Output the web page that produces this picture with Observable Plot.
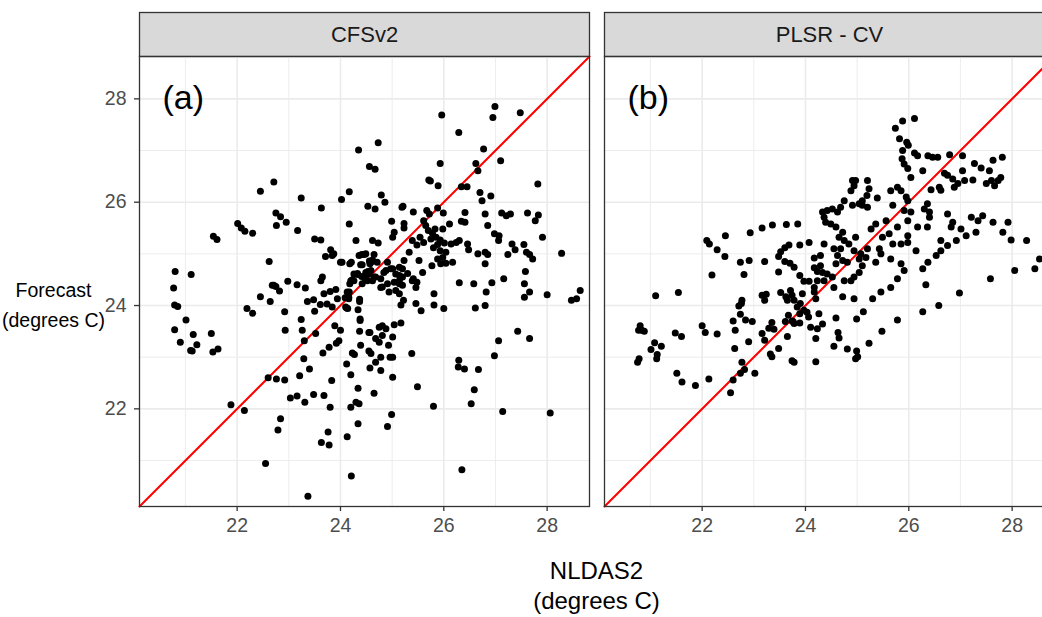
<!DOCTYPE html>
<html>
<head>
<meta charset="utf-8">
<script src="https://cdn.jsdelivr.net/npm/d3@7"></script>
<script src="https://cdn.jsdelivr.net/npm/@observablehq/plot@0.6"></script>
<style>
  html, body { margin: 0; padding: 0; background: white; overflow: hidden; }
  #wrap { position: relative; width: 1064px; height: 617px; font-family: "Liberation Sans", Arial, sans-serif; }
  .title { position: absolute; text-align: center; color: #000; white-space: nowrap; }
</style>
</head>
<body>
<div id="wrap">
  <div id="chart"></div>
  <div class="title" style="left:0px; width:107px; top:275px; line-height:30px; font-size:19.5px;">Forecast<br>(degrees C)</div>
  <div class="title" style="left:139px; width:915px; top:556px; line-height:30px; font-size:24px;">NLDAS2<br>(degrees C)</div>
</div>
<script>
const panels = ["CFSv2", "PLSR - CV"];
const panelLetters = ["(a)", "(b)"];
const majorTicks = [22, 24, 26, 28];
const minorTicks = [21, 23, 25, 27];
const limits = [20.11, 28.82];

const cfsv2Points = [
[24.35,27.01],[24.56,26.69],[24.67,26.64],[22.71,26.39],[22.45,26.21],[23.24,26.08],[24.17,26.2],[24.02,26.05],[24.53,25.92],[23.63,25.89],
[22.75,25.79],[22.84,25.72],[22.76,25.55],[22.95,25.61],[23.17,25.45],[22.01,25.59],[22.08,25.5],[22.15,25.44],[22.3,25.4],[21.54,25.34],
[21.61,25.28],[24.17,25.58],[23.5,25.29],[23.62,25.27],[24.3,25.26],[22.62,24.85],[23.81,25.08],[23.87,25.0],[23.71,24.95],[23.84,24.97],
[24.03,24.84],[24.36,24.97],[24.46,24.99],[24.18,24.81],[24.39,24.79],[24.56,24.86],[24.33,24.62],[24.46,24.55],[24.2,24.48],[24.52,24.48],
[20.8,24.66],[21.11,24.6],[20.77,24.34],[23.65,24.55],[23.62,24.48],[22.98,24.47],[23.16,24.4],[23.32,24.34],[22.71,24.39],[22.75,24.37],
[20.79,24.01],[20.85,23.98],[21.01,23.72],[20.79,23.53],[21.15,23.44],[21.5,23.46],[20.9,23.29],[21.22,23.24],[21.1,23.13],[21.13,23.12],
[21.53,23.1],[21.63,23.16],[22.19,23.94],[22.3,23.85],[21.88,22.08],[22.14,21.97],[22.55,20.94],[23.37,20.31],[24.21,20.7],[22.6,22.6],
[22.76,22.58],[22.92,22.56],[22.84,21.81],[22.79,21.59],[23.03,22.21],[23.16,22.25],[23.31,22.13],[23.48,22.28],[23.68,22.26],[23.8,22.03],
[23.76,21.55],[23.63,21.35],[23.78,21.3],[24.13,21.46],[24.2,22.03],[24.3,22.13],[24.36,22.1],[24.34,21.71],[24.34,22.4],[24.2,22.66],
[24.12,22.87],[24.23,23.08],[24.27,23.05],[24.39,23.23],[24.55,23.48],[24.57,22.79],[24.37,23.5],[24.38,23.71],[24.38,23.74],[24.34,23.92],
[24.37,24.08],[24.37,24.12],[24.12,23.95],[24.14,23.94],[23.94,24.13],[24.09,24.15],[24.17,24.26],[24.16,24.13],[24.23,24.5],[24.33,24.6],
[24.41,24.56],[24.48,24.52],[24.53,24.66],[24.42,24.79],[24.21,24.84],[24.0,24.84],[22.68,24.39],[22.82,24.28],[22.45,24.17],[22.64,24.08],
[22.92,23.88],[22.93,23.52],[23.24,23.73],[23.26,23.52],[23.3,23.32],[23.29,22.97],[23.4,22.77],[23.21,22.64],[23.52,23.46],[23.5,23.89],
[23.36,24.08],[23.48,24.11],[23.61,24.02],[23.68,24.23],[23.8,24.27],[23.91,24.31],[23.74,24.03],[23.84,23.97],[23.89,23.61],[24.0,23.52],
[23.97,23.32],[23.92,23.27],[23.78,23.19],[23.66,23.08],[23.83,22.55],
[26.99,27.85],[26.95,27.64],[27.48,27.73],[25.96,27.69],[26.29,27.35],[24.73,27.15],[26.77,27.03],[25.93,26.75],[27.1,26.8],[26.62,26.75],
[26.66,26.61],[25.71,26.43],[25.74,26.41],[25.89,26.32],[26.34,26.3],[26.45,26.3],[27.82,26.35],[26.7,26.19],[26.74,26.03],[26.91,26.12],
[24.79,26.14],[24.86,26.0],[24.67,25.87],[25.19,25.9],[25.21,25.92],[25.41,25.81],[25.67,25.84],[25.72,25.77],[25.88,25.89],[25.99,25.79],
[26.41,25.8],[26.34,25.63],[26.41,25.61],[26.8,25.77],[27.12,25.79],[27.21,25.74],[27.29,25.77],[27.62,25.79],[27.83,25.75],[27.77,25.64],
[26.85,25.55],[24.99,25.63],[25.23,25.59],[25.23,25.5],[25.61,25.64],[25.65,25.55],[25.7,25.45],[25.78,25.4],[25.83,25.48],[25.98,25.48],
[26.11,25.58],[25.04,25.42],[25.01,25.32],[24.62,25.26],[24.73,25.21],[25.39,25.26],[25.48,25.17],[25.54,25.32],[25.61,25.22],[25.75,25.29],
[25.85,25.32],[25.93,25.27],[25.88,25.18],[26.01,25.21],[26.14,25.19],[26.24,25.22],[26.3,25.26],[26.46,25.19],[26.48,25.08],[25.8,25.12],
[25.93,25.06],[26.04,25.03],[25.98,24.93],[25.88,24.9],[25.77,24.77],[25.94,24.81],[26.04,24.82],[26.17,24.84],[26.66,25.0],[26.8,25.03],
[26.85,24.99],[26.8,24.81],[26.98,25.39],[27.07,25.35],[27.06,25.26],[27.32,25.19],[27.38,25.08],[27.55,25.18],[27.6,25.03],[27.66,24.99],
[27.72,24.9],[27.24,24.99],[27.91,25.32],[28.28,25.01],[27.58,24.66],[27.16,24.52],[26.3,24.44],[26.58,24.42],[26.93,24.44],[27.56,24.42],
[28.64,24.29],[24.41,24.99],[24.49,25.0],[24.65,24.99],[24.62,24.88],[24.57,24.81],[24.49,24.64],[24.59,24.68],[24.65,24.55],[24.26,24.48],
[24.18,24.42],[24.42,24.42],[24.88,24.68],[25.01,24.71],[25.07,24.61],[25.14,24.74],[25.2,24.55],[25.23,24.87],[25.33,25.03],[24.91,24.42],
[25.14,24.42],[25.39,24.48],[25.52,24.87],[25.59,24.64],[25.46,24.35],[24.78,24.35],[24.59,24.84],[24.71,24.84],[24.91,24.84],[24.26,24.61],
[24.13,24.26],[24.16,24.16],[24.1,23.97],[24.55,24.61],[24.68,24.55],[24.62,24.48],[24.78,24.52],[24.84,24.64],[24.97,24.71],[25.14,24.58],
[25.2,24.71],[25.3,24.62],[25.14,24.48],[25.2,24.39],[25.04,24.45],[25.07,24.29],[24.94,24.26],[24.81,24.36],[25.14,24.23],[25.41,24.52],
[25.48,24.45],[25.81,24.23],[25.81,24.01],[26.0,23.94],[25.56,23.9],[25.46,24.04],[25.22,24.1],[25.17,24.01],[27.66,24.26],[27.56,24.16],
[28.0,24.21],[28.47,24.1],[28.57,24.13],[26.82,24.26],[26.8,24.0],[26.61,23.95],[24.57,23.48],[24.75,23.58],[24.81,23.61],[24.88,23.55],
[24.68,23.36],[24.75,23.29],[24.81,23.42],[25.01,23.39],[25.04,23.63],[25.17,23.66],[24.55,23.12],[24.59,23.07],[24.78,23.0],[24.96,23.0],
[25.01,23.0],[24.93,23.23],[24.68,22.9],[24.78,22.74],[25.01,22.61],[25.38,23.07],[24.65,22.3],[25.49,22.43],[24.91,21.66],[24.99,21.89],
[25.8,22.05],[26.29,22.94],[26.28,22.81],[26.4,22.77],[26.67,22.76],[26.59,22.37],[26.53,22.1],[27.14,21.95],[28.06,21.92],[26.98,23.03],
[27.06,23.32],[27.43,23.5],[27.66,23.36],[26.35,20.82]
];

const plsrPoints = [
[22.09,25.26],[22.14,25.19],[22.29,25.08],[22.44,24.95],[22.45,25.35],[22.93,25.41],[23.16,25.5],[23.36,25.56],[23.63,25.57],[23.85,25.58],
[24.07,25.22],[23.89,25.17],[23.68,25.17],[23.6,25.12],[23.52,25.04],[23.48,24.95],[23.6,24.85],[23.7,24.82],[23.78,24.74],[23.89,24.58],
[23.97,24.47],[24.07,24.47],[24.17,24.92],[24.17,24.73],[24.23,24.66],[23.48,24.65],[22.74,24.84],[22.91,24.87],[23.21,24.85],[22.81,24.6],
[22.19,24.59],[21.1,24.19],[21.54,24.25],[23.52,24.25],[23.71,24.29],[23.94,24.23],[24.17,24.26],[24.2,24.13],[22.77,24.1],
[20.8,23.61],[20.83,23.52],[20.77,23.52],[20.88,23.5],[21.08,23.28],[21.21,23.21],[21.01,23.15],[21.13,23.05],[21.12,22.97],[20.78,22.97],
[20.75,22.9],[21.48,23.47],[21.6,23.4],[21.51,22.69],[21.61,22.52],[21.87,22.45],[22.13,22.58],[22.0,23.61],[22.06,23.48],[22.29,23.45],
[22.71,23.99],[22.76,24.04],[22.74,23.83],[22.84,23.72],[22.97,23.69],[22.6,23.7],[22.64,23.52],[22.63,23.17],[22.9,23.3],
[22.77,22.9],[22.82,22.76],[22.74,22.69],[22.6,22.56],[22.55,22.31],[23.02,22.69],
[23.16,24.2],[23.24,24.22],[23.21,24.1],[23.16,23.46],[23.21,23.33],[23.29,23.56],[23.35,23.67],[23.39,23.54],[23.32,23.06],[23.35,23.01],
[23.48,23.17],[23.65,23.4],[23.61,23.69],[23.67,23.81],[23.76,23.69],[23.89,23.66],[23.74,22.93],[23.78,22.9],[24.2,22.91],[24.2,23.36],
[23.62,24.17],[23.74,24.2],[23.78,24.1],[23.84,23.97],[23.9,24.04],[23.97,23.91],[24.03,23.87],[24.06,23.78],[24.1,23.58],[24.23,23.55],
[23.78,23.65],[23.74,23.7],[23.89,23.84],[23.65,24.1],
[26.11,27.62],[25.88,27.57],[25.74,27.43],[25.82,27.23],[25.96,27.16],[25.99,27.1],[25.88,27.0],[25.87,26.84],[25.91,26.74],[25.98,26.65],
[26.04,26.48],[26.11,26.95],[26.17,26.9],[26.37,26.9],[26.46,26.87],[26.56,26.87],[26.79,26.92],[27.04,26.9],[27.27,26.75],[27.4,26.66],
[27.56,26.61],[27.63,26.81],[27.81,26.87],[27.6,26.42],[27.73,26.42],[27.78,26.48],[27.66,26.32],[27.5,26.36],[26.69,26.56],[26.75,26.52],
[26.85,26.45],[26.95,26.36],[26.88,26.29],[27.08,26.42],[27.24,26.43],[27.04,26.61],[26.62,26.23],[26.43,26.24],[26.27,26.61],
[24.91,26.42],[24.97,26.42],[24.94,26.32],[24.88,26.22],[25.2,26.42],[25.23,26.26],[25.19,26.13],[25.1,26.03],[25.39,26.08],[25.04,25.97],
[24.91,25.94],[24.75,26.03],[24.68,25.9],[24.62,25.81],[24.52,25.87],[24.42,25.84],[24.33,25.81],[24.36,25.71],[24.39,25.61],[24.49,25.58],
[24.59,25.52],[24.72,25.42],[24.65,25.32],[24.75,25.26],[24.84,25.19],[24.68,25.1],[24.55,25.1],[24.62,24.97],[24.72,24.87],[24.81,24.84],
[24.59,24.81],[24.94,25.06],[25.07,25.0],[25.2,25.1],[25.04,24.9],[25.17,24.93],[24.97,25.32],[25.1,25.94],[25.2,25.9],[25.27,25.48],
[25.36,25.58],[25.49,25.32],[25.62,25.39],[25.78,25.52],[25.98,25.35],[25.85,25.19],[25.69,25.19],[25.43,25.1],[25.46,25.0],[25.65,24.9],
[25.36,24.84],[25.56,25.64],[25.65,26.22],[25.78,26.29],[25.85,26.22],[25.95,26.1],[25.98,26.03],[25.69,25.94],[25.91,25.84],[26.04,25.81],
[25.98,25.64],[26.17,25.52],[26.3,25.87],[26.36,25.97],[26.4,25.81],[26.59,26.29],[26.4,25.71],[26.36,25.52],[26.62,25.26],[26.75,25.16],
[26.92,25.26],[26.75,25.77],[26.85,25.61],[26.82,25.52],[27.01,25.48],[27.11,25.35],[27.21,25.71],[27.34,25.64],[27.43,25.74],[27.3,25.42],
[27.63,25.61],[27.82,25.42],[27.92,25.61],[27.98,25.27],[28.28,25.26],[28.44,24.71],[28.53,24.9],[28.05,24.68],[27.58,24.52],[26.98,24.24],
[26.37,24.84],[26.27,24.71],[26.33,24.4],[26.53,24.97],[26.62,25.06],[26.14,25.06],[25.98,25.22],[25.85,24.81],[25.91,24.68],[25.78,24.52],
[25.65,24.35],[25.46,24.26],[25.3,24.13],[24.94,24.13],[24.72,24.17],[24.55,24.35],[24.75,24.48],[24.88,24.48],[24.94,24.55],[25.04,24.64],
[25.1,24.77],[24.52,24.55],[24.42,24.61],[24.33,24.64],[24.36,24.48],[24.23,24.48],[24.17,24.35],[24.29,24.77],[24.29,24.97],[24.36,25.19],
[26.58,24.0],[26.27,23.88],[25.78,23.72],[25.48,23.5],[25.23,23.27],[24.99,23.12],[25.01,23.01],[24.97,22.97],[24.81,23.16],[24.55,23.21],
[24.65,23.37],[24.63,23.48],[24.59,23.76],[24.99,23.74],[25.12,23.88],[24.33,23.64],[24.26,23.84]
];

const rows = [
  ...cfsv2Points.map(([x, y]) => ({panel: panels[0], x, y})),
  ...plsrPoints.map(([x, y]) => ({panel: panels[1], x, y}))
];

const font = "'Liberation Sans', Arial, Helvetica, sans-serif";
const gridColor = "#ebebeb";
const fmt = d => String(d);

const chart = Plot.plot({
  width: 1064,
  height: 617,
  marginLeft: 139,
  marginRight: 10,
  marginTop: 56,
  marginBottom: 111,
  style: {fontFamily: font, background: "white", maxWidth: "none", overflow: "visible"},
  fx: {domain: panels, paddingInner: 15 / 465, paddingOuter: 0, axis: null, label: null},
  x: {domain: limits, label: null},
  y: {domain: limits, label: null},
  marks: [
    Plot.frame({fill: "#d9d9d9", stroke: "#333333", strokeWidth: 1.3, insetTop: -44, insetBottom: 450}),
    Plot.gridX(minorTicks, {stroke: gridColor, strokeOpacity: 1, strokeWidth: 0.9}),
    Plot.gridY(minorTicks, {stroke: gridColor, strokeOpacity: 1, strokeWidth: 0.9}),
    Plot.gridX(majorTicks, {stroke: gridColor, strokeOpacity: 1, strokeWidth: 1.6}),
    Plot.gridY(majorTicks, {stroke: gridColor, strokeOpacity: 1, strokeWidth: 1.6}),
    Plot.line(limits, {x: d => d, y: d => d, stroke: "#ff0000", strokeWidth: 2}),
    Plot.dot(rows, {x: "x", y: "y", fx: "panel", r: 3.5, fill: "black", stroke: "none"}),
    Plot.frame({stroke: "#333333", strokeWidth: 1.3}),
    Plot.axisX(majorTicks, {tickSize: 5, tickPadding: 7, tickFormat: fmt, fontSize: 19.5, fill: "#4d4d4d", stroke: "#333333", strokeWidth: 1.3, label: null}),
    Plot.axisY(majorTicks, {tickSize: 5, tickPadding: 8, tickFormat: fmt, fontSize: 19.5, fill: "#4d4d4d", stroke: "#333333", strokeWidth: 1.3, label: null}),
    Plot.text(panels, {fx: d => d, text: d => d, frameAnchor: "top", dy: -22, fontSize: 22, fill: "#1a1a1a", lineAnchor: "middle"}),
    Plot.text(panelLetters, {fx: (d, i) => panels[i], text: d => d, frameAnchor: "top-left", textAnchor: "start", dx: 23, dy: 42, fontSize: 34, fill: "black", lineAnchor: "middle"})
  ]
});
document.getElementById("chart").appendChild(chart);
</script>
</body>
</html>
